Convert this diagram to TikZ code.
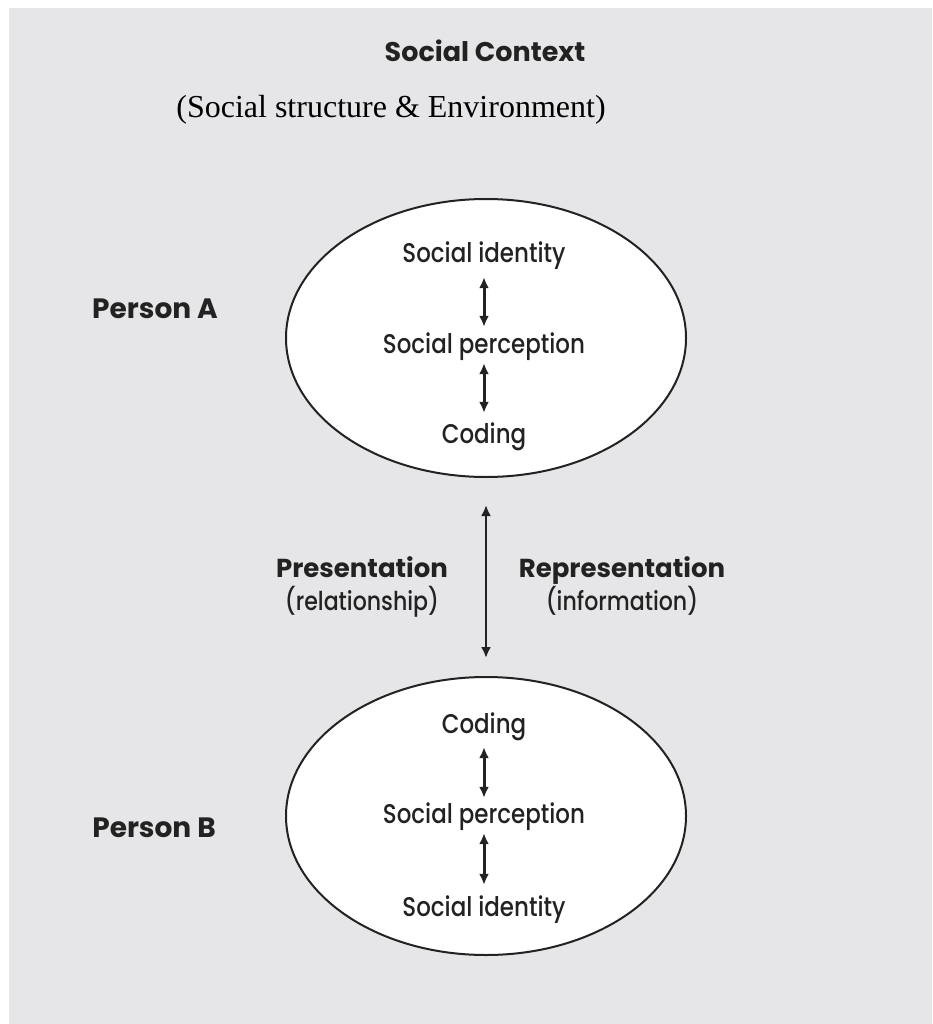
\documentclass[tikz,border=0pt]{standalone}
\usepackage{fontspec}
\setmainfont{Liberation Serif}
\newfontfamily\fut[FakeStretch=0.85,UprightFont={* Medium}]{Poppins}
\newfontfamily\futb[FakeStretch=1.0]{Poppins}
\usetikzlibrary{shapes.geometric,arrows.meta}
\definecolor{bg}{HTML}{E6E6E8}
\definecolor{ink}{HTML}{222222}
\tikzset{
  txt/.style={inner sep=0pt, anchor=base, text=ink, text height=18pt, text depth=5pt, font=\fut\fontsize{27}{30}\selectfont},
  bold/.style={inner sep=0pt, anchor=base, text=ink, font=\futb\bfseries\fontsize{27}{30}\selectfont},
  sub/.style={inner sep=0pt, anchor=base, text=ink, font=\fut\fontsize{26}{28}\selectfont},
  oval/.style={draw=ink, line width=2pt, fill=white, ellipse, inner sep=0pt, minimum width=400pt, minimum height=278pt},
  dbl/.style={draw=ink, line width=3pt, {Latex[length=11pt,width=10pt]}-{Latex[length=11pt,width=10pt]}},
}
\begin{document}
\begin{tikzpicture}[x=1pt,y=-1pt]
\useasboundingbox (0,0) rectangle (932,1024);
\fill[bg] (9,8) rectangle (932,1024);
\node[bold] (ctx) at (485,62) {Social Context};
\node[inner sep=0pt, anchor=base, text=black, font=\fontsize{32}{35}\selectfont] (env) at (391,118) {(Social structure \& Environment)};
% top ellipse
\node[oval] (ea) at (486,338) {};
\node[txt] (si1) at (484,262) {Social identity};
\node[txt] (sp1) at (484,353) {Social perception};
\node[txt] (cd1) at (484,443) {Coding};
\draw[dbl, shorten <=10pt, shorten >=8pt] (si1.south) -- (sp1.north);
\draw[dbl, shorten <=5pt, shorten >=12pt] (sp1.south) -- (cd1.north);
\node[bold, font=\futb\bfseries\fontsize{28}{30}\selectfont] (pa) at (155,318) {Person A};
% bottom ellipse
\node[oval] (eb) at (486,816) {};
\node[txt] (cd2) at (484,733) {Coding};
\node[txt] (sp2) at (484,823) {Social perception};
\node[txt] (si2) at (484,916) {Social identity};
\draw[dbl, shorten <=9pt, shorten >=7pt] (cd2.south) -- (sp2.north);
\draw[dbl, shorten <=5pt, shorten >=13pt] (sp2.south) -- (si2.north);
\node[bold, font=\futb\bfseries\fontsize{28}{30}\selectfont] (pb) at (154,837) {Person B};
% middle
\draw[dbl, line width=2.2pt, shorten <=27pt, shorten >=18pt] (ea.south) -- (eb.north);
\node[bold, font=\futb\bfseries\fontsize{26}{28}\selectfont] (pres) at (362,577) {Presentation};
\node[sub] (rel) at (362,610) {(relationship)};
\node[bold, font=\futb\bfseries\fontsize{26}{28}\selectfont] (rep) at (622,577) {Representation};
\node[sub] (inf) at (622,610) {(information)};
\end{tikzpicture}
\end{document}
